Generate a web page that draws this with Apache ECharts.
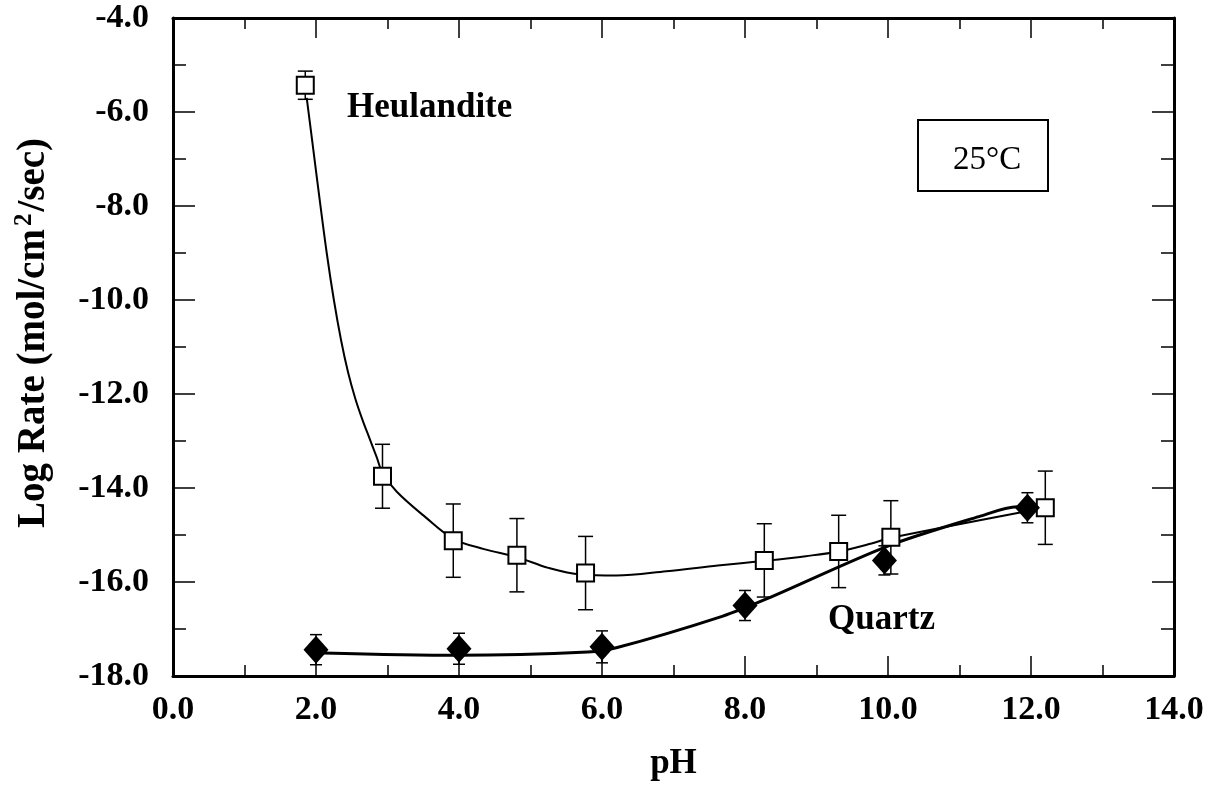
<!DOCTYPE html>
<html>
<head>
<meta charset="utf-8">
<script src="https://cdn.jsdelivr.net/npm/echarts@6/dist/echarts.min.js"></script>
<style>
  html, body { margin: 0; padding: 0; background: #fff; }
  #chart { width: 1219px; height: 786px; }
</style>
</head>
<body>
<div id="chart"></div>
<script>
// ---- Data ----
// Heulandite (open squares) with error bars
const heuPH   = [1.85, 2.93, 3.92, 4.81, 5.77, 8.27, 9.31, 10.04, 12.2];
const heuRate = [-5.43, -13.75, -15.12, -15.43, -15.81, -15.54, -15.35, -15.05, -14.42];
const heuErr  = [0.30, 0.68, 0.78, 0.78, 0.78, 0.78, 0.77, 0.78, 0.78];

// Quartz (filled diamonds) with error bars
const quPH   = [2.0, 4.0, 6.0, 8.0, 9.95, 11.95];
const quRate = [-17.44, -17.42, -17.38, -16.5, -15.54, -14.42];
const quErr  = [0.32, 0.33, 0.34, 0.32, 0.31, 0.32];

// Fitted curves
const heuFitPH   = [1.87, 1.95, 2.05, 2.15, 2.25, 2.35, 2.45, 2.55, 2.65, 2.75, 2.85, 2.93, 3.13, 3.53, 3.92, 4.35, 4.81, 5.25, 5.70, 6.20, 6.90, 7.62, 8.27, 8.85, 9.31, 9.77, 10.04, 12.2];
const heuFitRate = [-5.70, -6.65, -7.85, -9.00, -10.00, -10.85, -11.55, -12.10, -12.55, -12.95, -13.35, -13.68, -14.08, -14.62, -15.08, -15.30, -15.47, -15.70, -15.84, -15.86, -15.77, -15.65, -15.55, -15.45, -15.35, -15.18, -15.06, -14.42];

const quFitPH   = [2.0, 2.1, 3.99, 5.8, 6.2, 7.68, 8.3, 9.99, 11.27, 11.81, 11.95];
const quFitRate = [-17.48, -17.51, -17.56, -17.49, -17.40, -16.73, -16.36, -15.24, -14.61, -14.40, -14.42];

// Tick labels
const xTickLabels = ['0.0', '2.0', '4.0', '6.0', '8.0', '10.0', '12.0', '14.0'];
const yTickLabels = ['-18.0', '-16.0', '-14.0', '-12.0', '-10.0', '-8.0', '-6.0', '-4.0'];

// Annotation texts
const heuName = 'Heulandite';
const quName = 'Quartz';
const tempLabel = '25°C';

// ---- Chart ----
const FONT = '"Liberation Serif", "Times New Roman", serif';
const chart = echarts.init(document.getElementById('chart'), null, { renderer: 'canvas' });

const xMin = 0, xMax = 14, xInt = 2;
const yMin = -18, yMax = -4, yInt = 2;

function xFmt(v) { return xTickLabels[Math.round((v - xMin) / xInt)] ?? ''; }
function yFmt(v) { return yTickLabels[Math.round((v - yMin) / yInt)] ?? ''; }

const axisLineStyle = { color: '#000', width: 3 };
const tickStyle = { color: '#000', width: 1.5 };

function xAxisCfg(pos, showLabel) {
  return {
    type: 'value', position: pos, min: xMin, max: xMax, interval: xInt,
    axisLine: { show: true, onZero: false, lineStyle: axisLineStyle },
    axisTick: { show: true, inside: true, length: 20, lineStyle: tickStyle },
    minorTick: { show: true, splitNumber: 2, length: 11, lineStyle: tickStyle },
    splitLine: { show: false }, minorSplitLine: { show: false },
    axisLabel: {
      show: showLabel, formatter: xFmt, fontFamily: FONT, fontWeight: 'bold',
      fontSize: 34, color: '#000', margin: 17
    },
    name: showLabel ? 'pH' : '', nameLocation: 'middle', nameGap: 70,
    nameTextStyle: { fontFamily: FONT, fontWeight: 'bold', fontSize: 35, color: '#000' }
  };
}
function yAxisCfg(pos, showLabel) {
  return {
    type: 'value', position: pos, min: yMin, max: yMax, interval: yInt,
    axisLine: { show: true, onZero: false, lineStyle: axisLineStyle },
    axisTick: { show: true, inside: true, length: 22, lineStyle: tickStyle },
    minorTick: { show: true, splitNumber: 2, length: 13, lineStyle: tickStyle },
    splitLine: { show: false }, minorSplitLine: { show: false },
    axisLabel: {
      show: showLabel, formatter: yFmt, fontFamily: FONT, fontWeight: 'bold',
      fontSize: 34, color: '#000', margin: 24
    },
    name: showLabel ? '{a|Log Rate (mol/cm}{s|2}{a|/sec)}' : '',
    nameLocation: 'middle', nameGap: 118, nameRotate: 90,
    nameTextStyle: {
      color: '#000',
      padding: [0, 0, 0, 28],
      rich: {
        a: { fontFamily: FONT, fontWeight: 'bold', fontSize: 39, color: '#000' },
        s: { fontFamily: FONT, fontWeight: 'bold', fontSize: 25, color: '#000', padding: [0, 2, 18, 3] }
      }
    }
  };
}

function errRender(capW) {
  return function (params, api) {
    const x = api.value(0), y = api.value(1), e = api.value(2);
    const t = api.coord([x, y + e]);
    const b = api.coord([x, y - e]);
    const h = capW / 2;
    const st = { stroke: '#000', lineWidth: 1.5 };
    return {
      type: 'group',
      children: [
        { type: 'line', shape: { x1: t[0], y1: t[1], x2: b[0], y2: b[1] }, style: st },
        { type: 'line', shape: { x1: t[0] - h, y1: t[1], x2: t[0] + h, y2: t[1] }, style: st },
        { type: 'line', shape: { x1: b[0] - h, y1: b[1], x2: b[0] + h, y2: b[1] }, style: st }
      ]
    };
  };
}

const option = {
  backgroundColor: '#fff',
  animation: false,
  grid: { left: 173, right: 45, top: 18, bottom: 108, containLabel: false },
  xAxis: [xAxisCfg('bottom', true), xAxisCfg('top', false)],
  yAxis: [yAxisCfg('left', true), yAxisCfg('right', false)],
  series: [
    {
      name: 'Heulandite fit', type: 'line', smooth: 0.35, showSymbol: false, z: 2,
      data: heuFitPH.map((p, i) => [p, heuFitRate[i]]),
      lineStyle: { color: '#000', width: 2 }
    },
    {
      name: 'Quartz fit', type: 'line', smooth: 0.3, showSymbol: false, z: 2,
      data: quFitPH.map((p, i) => [p, quFitRate[i]]),
      lineStyle: { color: '#000', width: 3 }
    },
    {
      name: 'Heulandite err', type: 'custom', z: 3,
      renderItem: errRender(15),
      data: heuPH.map((p, i) => [p, heuRate[i], heuErr[i]])
    },
    {
      name: 'Quartz err', type: 'custom', z: 3,
      renderItem: errRender(12),
      data: quPH.map((p, i) => [p, quRate[i], quErr[i]])
    },
    {
      name: 'Heulandite', type: 'scatter', z: 5, symbol: 'rect', symbolSize: 17,
      data: heuPH.map((p, i) => [p, heuRate[i]]),
      itemStyle: { color: '#fff', borderColor: '#000', borderWidth: 2, opacity: 1 }
    },
    {
      name: 'Quartz', type: 'scatter', z: 5, symbol: 'diamond', symbolSize: [25, 28],
      data: quPH.map((p, i) => [p, quRate[i]]),
      itemStyle: { color: '#000', opacity: 1 }
    }
  ],
  graphic: [
    {
      type: 'text', x: 347, y: 108, z: 10,
      style: { text: heuName, font: 'bold 35px ' + FONT, fill: '#000', verticalAlign: 'middle', align: 'left' }
    },
    {
      type: 'text', x: 828, y: 620, z: 10,
      style: { text: quName, font: 'bold 35px ' + FONT, fill: '#000', verticalAlign: 'middle', align: 'left' }
    },
    {
      type: 'rect', z: 10,
      shape: { x: 918, y: 120, width: 130, height: 71 },
      style: { fill: 'none', stroke: '#000', lineWidth: 2 }
    },
    {
      type: 'text', x: 953, y: 160, z: 10,
      style: { text: tempLabel, font: '33px ' + FONT, fill: '#000', verticalAlign: 'middle', align: 'left' }
    }
  ]
};
chart.setOption(option);
</script>
</body>
</html>
